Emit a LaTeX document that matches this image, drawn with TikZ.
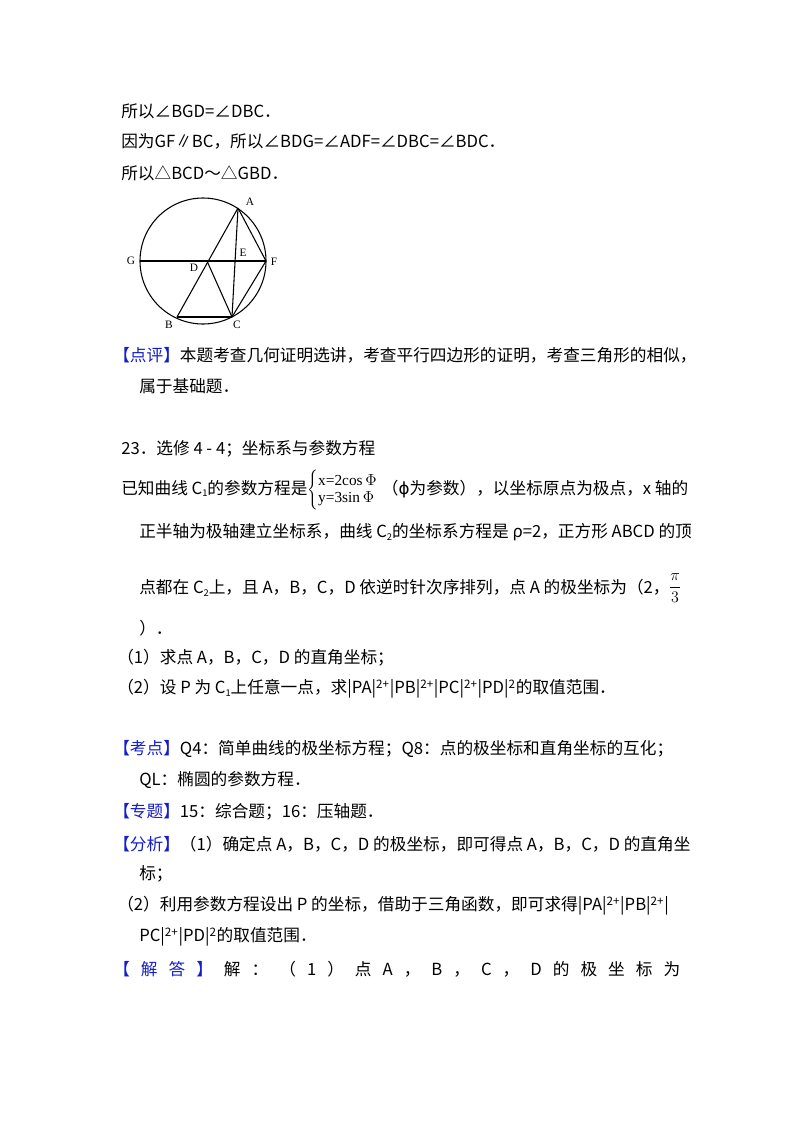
\documentclass[tikz,border=0pt]{standalone}
\usepackage{fontspec}
\setmainfont{Noto Sans CJK SC}
\newfontfamily\serifx{Liberation Serif}
\newfontfamily\djv{DejaVu Sans}
\begin{document}
\begin{tikzpicture}[x=0.75pt,y=-0.75pt,
  t/.style={anchor=west,inner sep=0pt,font=\fontsize{12.5}{14}\selectfont},
  lbl/.style={inner sep=0pt,font=\serifx\fontsize{8.5}{10}\selectfont},
  ln/.style={line width=0.8pt}]
\definecolor{kb}{RGB}{20,30,200}
\useasboundingbox (0,0) rectangle (800,1132);
\newcommand{\kw}[1]{\textcolor{kb}{【#1】}}
\newcommand{\sbs}[1]{{\fontsize{7}{8}\selectfont\raisebox{-2pt}{#1}}}
\node[t] (l1) at (121,111) {所以∠BGD=∠DBC．};
\node[t] (l2) at (121,141) {因为GF∥BC，所以∠BDG=∠ADF=∠DBC=∠BDC．};
\node[t] (l3) at (121,173) {所以△BCD～△GBD．};
% figure
\coordinate (O) at (203,261);
\draw[ln] (O) circle[radius=63];
\coordinate (G) at (140,261);
\coordinate (F) at (266,261);
\coordinate (A) at (238,208);
\coordinate (D) at (207,261);
\coordinate (B) at (177,317);
\coordinate (C) at (232,317);
\draw[ln] (G) -- (F);
\draw[ln] (A) -- (B);
\draw[ln] (A) -- (C);
\draw[ln] (A) -- (F);
\draw[ln] (D) -- (C);
\draw[ln] (B) -- (C);
\draw[ln] (C) -- (F);
\node[lbl] (nA) at (250,202) {A};
\node[lbl] (nG) at (131,261) {G};
\node[lbl] (nF) at (274,262) {F};
\node[lbl] (nD) at (194,268) {D};
\node[lbl] (nE) at (243,253) {E};
\node[lbl] (nB) at (169,325) {B};
\node[lbl] (nC) at (237,325) {C};
\node[t] (l4) at (113,355) {\kw{点评}本题考查几何证明选讲，考查平行四边形的证明，考查三角形的相似，};
\node[t] (l5) at (139,386) {属于基础题．};
\node[t] (l6) at (121,449) {23．选修 4 - 4；坐标系与参数方程};
\node[t] (l7) at (121,490) {已知曲线 C\sbs{1}的参数方程是$\left\{\begin{array}{@{}l@{}}\mbox{\serifx\fontsize{11.5}{12}\selectfont x=2cos}\,\Phi\\[-1pt] \mbox{\serifx\fontsize{11.5}{12}\selectfont y=3sin}\,\Phi\end{array}\right.$\ （{\djv ϕ}为参数），以坐标原点为极点，x 轴的};
\node[t] (l8) at (139,532) {正半轴为极轴建立坐标系，曲线 C\sbs{2}的坐标系方程是 ρ=2，正方形 ABCD 的顶};
\node[t] (l9) at (139,588) {点都在 C\sbs{2}上，且 A，B，C，D 依逆时针次序排列，点 A 的极坐标为（2，};
\node[inner sep=0pt,font=\large] (fr) at (675,588) {$\displaystyle\frac{\pi}{3}$};
\node[t] (l10) at (139,628) {）．};
\node[t] (l11) at (117,658) {（1）求点 A，B，C，D 的直角坐标；};
\node[t] (l12) at (117,689) {（2）设 P 为 C\sbs{1}上任意一点，求|PA|\textsuperscript{2+}|PB|\textsuperscript{2+}|PC|\textsuperscript{2+}|PD|\textsuperscript{2}的取值范围．};
\node[t] (l13) at (113,749) {\kw{考点}Q4：简单曲线的极坐标方程；Q8：点的极坐标和直角坐标的互化；};
\node[t] (l14) at (139,780) {QL：椭圆的参数方程．};
\node[t] (l15) at (113,812) {\kw{专题}15：综合题；16：压轴题．};
\node[t] (l16) at (113,844) {\kw{分析}（1）确定点 A，B，C，D 的极坐标，即可得点 A，B，C，D 的直角坐};
\node[t] (l17) at (139,874) {标；};
\node[t] (l18) at (117,906) {（2）利用参数方程设出 P 的坐标，借助于三角函数，即可求得|PA|\textsuperscript{2+}|PB|\textsuperscript{2+}|};
\node[t] (l19) at (139,937) {PC|\textsuperscript{2+}|PD|\textsuperscript{2}的取值范围．};
\node[t] (l20) at (113,969) {\makebox[567\dimexpr0.75pt\relax][s]{\textcolor{kb}{【\hfill 解\hfill 答\hfill 】}\hfill 解\hfill ：\hfill （\hfill 1\hfill ）\hfill 点\hfill A\hfill ，\hfill B\hfill ，\hfill C\hfill ，\hfill D\hfill 的\hfill 极\hfill 坐\hfill 标\hfill 为}};
\end{tikzpicture}
\end{document}
